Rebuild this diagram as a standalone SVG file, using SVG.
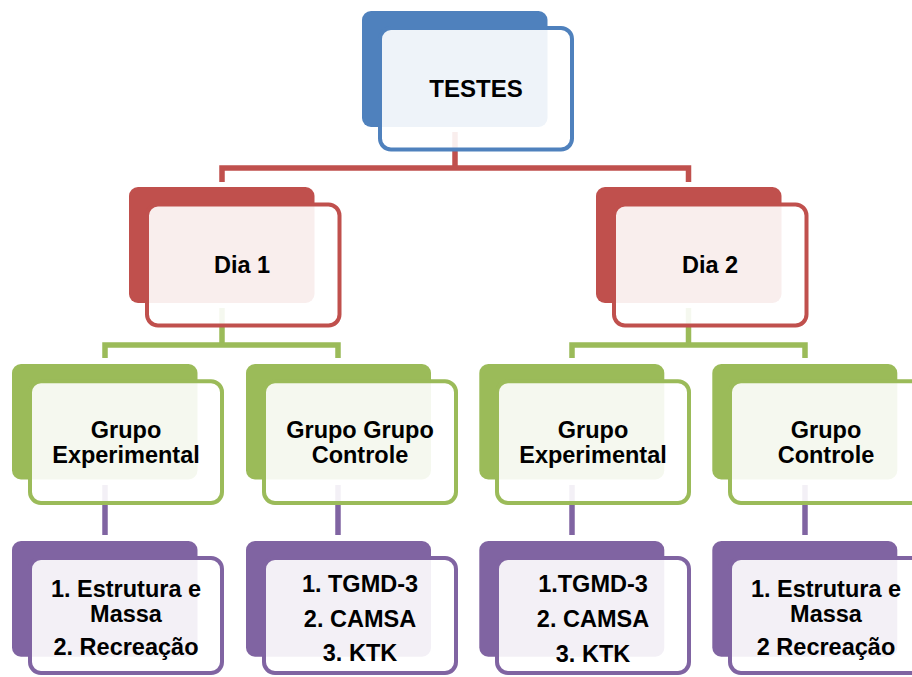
<svg xmlns="http://www.w3.org/2000/svg" width="912" height="677" viewBox="0 0 912 677">
<style>
.bg{fill:#ffffff}
.fill{stroke:none}
.ov{fill:#ffffff;fill-opacity:0.9;stroke-width:4}
.blue .fill{fill:#4F81BD}.blue .ov{stroke:#4F81BD}
.red .fill{fill:#C0504D}.red .ov{stroke:#C0504D}
.green .fill{fill:#9BBB59}.green .ov{stroke:#9BBB59}
.purple .fill{fill:#8064A2}.purple .ov{stroke:#8064A2}
.c{fill:none;stroke-width:5.5;stroke-linejoin:miter}
.cr{stroke:#C0504D}.cg{stroke:#9BBB59}.cp{stroke:#8064A2}
text{font-family:"Liberation Sans",Arial,sans-serif;font-weight:bold;font-size:23.5px;fill:#000;text-anchor:middle}
</style>
<rect class="bg" x="0" y="0" width="912" height="677"/>
<g id="connectors">
<path class="c cr" d="M455,132 V168"/>
<path class="c cr" d="M222,182 V168 H688.5 V182"/>
<path class="c cg" d="M222,308 V345"/>
<path class="c cg" d="M105,358 V345 H338 V358"/>
<path class="c cg" d="M688.5,308 V345"/>
<path class="c cg" d="M572,358 V345 H805 V358"/>
<path class="c cp" d="M105,485 V535"/>
<path class="c cp" d="M338,485 V535"/>
<path class="c cp" d="M572,485 V535"/>
<path class="c cp" d="M805,485 V535"/>
</g>
<g id="testes" class="blue">
<rect class="fill" x="362" y="11" width="185.5" height="116" rx="9"/>
<rect class="ov" x="380" y="28" width="192" height="121.5" rx="11"/>
<text x="476" y="97" style="font-size:24px">TESTES</text>
</g>
<g id="dia1" class="red">
<rect class="fill" x="129" y="187" width="185.5" height="116" rx="9"/>
<rect class="ov" x="147" y="204.5" width="192.5" height="121" rx="11"/>
<text x="242" y="272.7">Dia 1</text>
</g>
<g id="dia2" class="red">
<rect class="fill" x="596" y="187" width="185.5" height="116" rx="9"/>
<rect class="ov" x="614" y="204.5" width="192.5" height="121" rx="11"/>
<text x="710" y="272.7">Dia 2</text>
</g>
<g id="grupo-exp-1" class="green">
<rect class="fill" x="12" y="364" width="185.5" height="115.5" rx="9"/>
<rect class="ov" x="30" y="381.3" width="192" height="121.7" rx="11"/>
<text x="126" y="438">Grupo</text>
<text x="126" y="462.7">Experimental</text>
</g>
<g id="grupo-ctrl-1" class="green">
<rect class="fill" x="246" y="364" width="185" height="115.5" rx="9"/>
<rect class="ov" x="264" y="381.3" width="192" height="121.7" rx="11"/>
<text x="360" y="438">Grupo Grupo</text>
<text x="360" y="462.7">Controle</text>
</g>
<g id="grupo-exp-2" class="green">
<rect class="fill" x="479.3" y="364" width="185" height="115.5" rx="9"/>
<rect class="ov" x="497" y="381.3" width="192" height="121.7" rx="11"/>
<text x="593" y="438">Grupo</text>
<text x="593" y="462.7">Experimental</text>
</g>
<g id="grupo-ctrl-2" class="green">
<rect class="fill" x="712.3" y="364" width="185" height="115.5" rx="9"/>
<rect class="ov" x="730" y="381.3" width="192" height="121.7" rx="11"/>
<text x="826" y="438">Grupo</text>
<text x="826" y="462.7">Controle</text>
</g>
<g id="testes-exp-1" class="purple">
<rect class="fill" x="12" y="541" width="185.5" height="115.7" rx="9"/>
<rect class="ov" x="30" y="558" width="192" height="115" rx="11"/>
<text x="126" y="596.7">1. Estrutura e</text>
<text x="126" y="621.7">Massa</text>
<text x="126" y="655">2. Recreação</text>
</g>
<g id="testes-ctrl-1" class="purple">
<rect class="fill" x="246" y="541" width="185" height="115.7" rx="9"/>
<rect class="ov" x="264" y="558" width="192" height="115" rx="11"/>
<text x="360" y="591.7">1. TGMD-3</text>
<text x="360" y="626.7">2. CAMSA</text>
<text x="360" y="660.5">3. KTK</text>
</g>
<g id="testes-exp-2" class="purple">
<rect class="fill" x="479.3" y="541" width="185" height="115.7" rx="9"/>
<rect class="ov" x="497" y="558" width="192" height="115" rx="11"/>
<text x="593" y="591.7">1.TGMD-3</text>
<text x="593" y="627">2. CAMSA</text>
<text x="593" y="661.5">3. KTK</text>
</g>
<g id="testes-ctrl-2" class="purple">
<rect class="fill" x="712.3" y="541" width="185" height="115.7" rx="9"/>
<rect class="ov" x="730" y="558" width="192" height="115" rx="11"/>
<text x="826" y="596.7">1. Estrutura e</text>
<text x="826" y="621.7">Massa</text>
<text x="826" y="655">2 Recreação</text>
</g>
</svg>
